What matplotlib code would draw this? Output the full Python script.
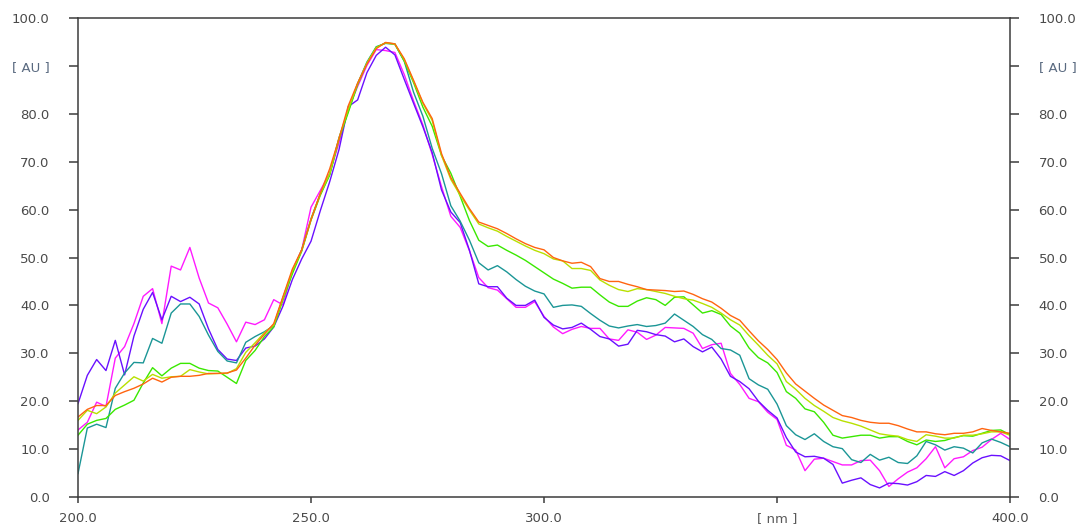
import numpy as np
import matplotlib
matplotlib.use("Agg")
import matplotlib.pyplot as plt

# wavelength grid [nm], 2 nm step
wavelength = np.arange(200, 401, 2)

magenta = [14.0, 15.6, 19.8, 18.9, 29.0, 31.4, 36.2, 41.9, 43.5, 36.2, 48.2, 47.4, 52.1, 45.7, 40.5, 39.5, 36.1, 32.4, 36.5, 36.0, 37.0,
           41.2, 40.1, 47.3, 51.6, 60.5, 64.0, 67.6, 73.9, 81.0, 85.7, 90.1, 93.4, 93.2, 92.8, 88.2, 82.7, 77.7, 71.5, 64.8, 58.6, 56.3, 51.4, 45.8, 43.7, 43.2, 41.4, 39.6, 39.6, 40.8, 37.7,
           35.5, 34.1, 35.0, 35.6, 35.2, 35.2, 33.0, 32.7, 34.9, 34.4, 32.9, 33.8, 35.4, 35.3, 35.2, 34.2, 31.0, 31.8, 32.1, 25.8, 23.5, 20.6, 19.9, 17.7, 16.2,
           10.8, 9.8, 5.5, 7.9, 8.1, 7.4, 6.7, 6.7, 7.6, 7.7, 5.5, 2.2, 3.8, 5.2, 6.1, 8.0, 10.5, 6.1, 8.0, 8.4, 9.7, 10.4, 12.0, 13.3, 12.0]

purple = [19.5, 25.4, 28.7, 26.4, 32.7, 25.5, 33.6, 39.2, 42.7, 37.0, 41.9, 40.8, 41.7, 40.3, 35.1, 30.8, 28.8, 28.5, 31.1, 31.5, 33.0,
          35.5, 39.9, 45.4, 49.7, 53.4, 59.8, 65.8, 72.5, 81.5, 82.9, 88.6, 92.2, 93.9, 92.3, 87.2, 82.2, 77.3, 71.9, 64.1, 59.5, 57.3, 51.5, 44.5, 43.9, 43.9, 41.5, 40.0, 40.0, 41.1, 37.5,
          35.9, 35.1, 35.4, 36.3, 35.0, 33.5, 33.0, 31.5, 31.9, 34.8, 34.5, 33.9, 33.6, 32.4, 33.0, 31.4, 30.3, 31.3, 28.8, 25.2, 24.1, 22.6, 20.0, 18.1, 16.5,
          12.4, 9.4, 8.4, 8.5, 8.1, 6.8, 2.9, 3.5, 4.0, 2.6, 1.9, 2.9, 2.8, 2.5, 3.2, 4.5, 4.3, 5.3, 4.5, 5.5, 7.1, 8.2, 8.7, 8.6, 7.6]

teal = [4.9, 14.4, 15.2, 14.5, 22.7, 25.9, 28.1, 28.0, 33.1, 32.1, 38.4, 40.3, 40.3, 37.7, 33.8, 30.4, 28.4, 28.0, 32.3, 33.5, 34.5,
        35.8, 41.7, 47.0, 51.6, 58.1, 63.3, 67.3, 75.0, 80.6, 86.3, 90.8, 94.0, 94.7, 94.5,
        91.0, 84.5, 79.5, 72.8, 67.5, 60.8, 57.6, 53.6, 48.9, 47.4, 48.3, 47.0, 45.4, 44.0, 43.0, 42.4,
        39.6, 40.0, 40.1, 39.8, 38.3, 36.9, 35.7, 35.3, 35.7, 36.0, 35.6, 35.8, 36.3, 38.2, 36.9, 35.6, 33.9, 32.9, 31.0, 30.7, 29.6, 24.7, 23.4, 22.5, 19.4,
        14.9, 13.0, 12.0, 13.2, 11.6, 10.5, 10.1, 7.8, 7.2, 8.9, 7.7, 8.3, 7.2, 7.0, 8.6, 11.6, 10.9, 9.8, 10.5, 10.2, 9.2, 11.3, 12.1, 11.4, 10.5]

green = [12.9, 15.2, 16.0, 16.4, 18.3, 19.2, 20.2, 23.8, 27.0, 25.3, 26.9, 27.9, 27.9, 26.9, 26.4, 26.3, 25.0, 23.7, 28.5, 30.6, 33.5,
         35.5, 41.2, 46.6, 51.3, 57.8, 63.0, 67.2, 74.7, 80.3, 86.1, 90.6, 93.9, 94.8, 94.6,
         91.0, 86.5, 81.4, 77.4, 71.3, 67.6, 62.8, 57.7, 53.6, 52.3, 52.6, 51.5, 50.5, 49.4, 48.1, 46.8,
         45.5, 44.6, 43.6, 43.8, 43.8, 42.2, 40.7, 39.8, 39.8, 40.9, 41.6, 41.2, 40.0, 41.7, 41.8, 40.1, 38.4, 38.9, 38.1, 35.7, 34.2, 31.1, 29.1, 28.0, 26.0,
         22.0, 20.6, 18.4, 17.8, 15.6, 12.9, 12.3, 12.6, 12.9, 12.9, 12.3, 12.6, 12.6, 11.6, 10.9, 11.9, 11.6, 11.8, 12.4, 12.8, 12.7, 13.3, 13.9, 14.0, 13.0]

yellow = [16.0, 18.1, 17.4, 18.8, 21.7, 23.4, 25.1, 24.2, 25.6, 24.8, 25.1, 25.2, 26.6, 26.1, 25.7, 25.8, 25.8, 26.8, 30.2, 32.2, 34.3,
          35.9, 41.6, 47.2, 51.5, 58.0, 63.3, 67.5, 74.9, 81.0, 86.3, 90.6, 93.8, 94.8, 94.5,
          91.3, 86.8, 82.2, 78.6, 71.3, 66.3, 63.0, 59.9, 57.0, 56.2, 55.5, 54.4, 53.4, 52.4, 51.5, 50.8,
          49.7, 49.3, 47.7, 47.7, 47.3, 45.3, 44.2, 43.3, 42.9, 43.5, 43.3, 42.9, 42.5, 41.9, 41.4, 41.1, 40.4, 39.6, 38.4, 37.0, 35.9, 33.7, 31.7, 29.6, 27.8,
          24.1, 22.5, 20.6, 19.1, 17.9, 16.6, 15.9, 15.4, 14.8, 14.0, 13.2, 12.9, 12.7, 12.0, 11.6, 13.0, 12.7, 12.3, 12.3, 12.9, 12.9, 13.2, 13.6, 13.6, 12.9]

orange = [16.7, 18.3, 19.1, 19.1, 21.2, 22.0, 22.7, 23.6, 24.8, 24.0, 25.0, 25.2, 25.2, 25.4, 25.8, 25.8, 25.9, 26.5, 29.0, 31.7, 34.0,
          36.2, 41.9, 47.6, 51.6, 57.9, 63.4, 68.5, 74.8, 81.7, 86.4, 90.4, 93.6, 94.9, 94.6,
          91.5, 87.0, 82.4, 79.0, 71.7, 66.7, 63.4, 60.2, 57.4, 56.7, 56.0, 55.0, 53.9, 52.9, 52.1, 51.6,
          50.0, 49.3, 48.8, 49.0, 48.1, 45.6, 45.0, 45.0, 44.4, 43.9, 43.3, 43.2, 43.1, 42.9, 43.0, 42.3, 41.4, 40.7, 39.4, 37.9, 36.9, 34.7, 32.6, 30.8, 28.7,
          25.9, 23.6, 22.1, 20.6, 19.2, 18.1, 17.0, 16.6, 16.0, 15.6, 15.4, 15.4, 14.9, 14.2, 13.6, 13.6, 13.2, 13.0, 13.3, 13.3, 13.6, 14.3, 13.9, 13.6, 13.3]

x_ticks = [200, 250, 300, 350, 400]
x_labels = ["200.0", "250.0", "300.0", "[ nm ]", "400.0"]
y_ticks = list(range(0, 101, 10))
y_labels = ["%.1f" % v for v in y_ticks]
y_labels[9] = "[ AU ]"

plt.rcParams['font.family'] = ['DejaVu Sans']

fig = plt.figure(figsize=(10.79, 5.26), dpi=100)
ax = fig.add_axes([0.0723, 0.0551, 0.8638, 0.9107])

series = [(magenta, '#ff1aff'), (purple, '#6a10ff'), (teal, '#1b9696'),
          (green, '#3ae800'), (yellow, '#b8e000'), (orange, '#ff6410')]
for vals, col in series:
    ax.plot(wavelength, vals, color=col, lw=1.0)

ax.set_xlim(200, 400)
ax.set_ylim(0, 100)

for s in ax.spines.values():
    s.set_color('#3c3c3c')
    s.set_linewidth(1.1)

ax.set_xticks(x_ticks)
ax.set_xticklabels(x_labels)
ax.set_yticks(y_ticks)
ax.set_yticklabels(y_labels)

ax.tick_params(axis='y', direction='out', length=6.5, width=1.1, color='#3c3c3c',
               left=True, right=True, labelleft=True, labelright=True,
               pad=14, labelsize=9.5, labelcolor='#4a4a4a')
ax.tick_params(axis='x', direction='out', length=4.5, width=1.1, color='#3c3c3c',
               pad=6, labelsize=9.5, labelcolor='#4a4a4a')

# unit ticks are drawn lighter
t = ax.yaxis.get_major_ticks()[9]
t.tick1line.set_color('#a0a0a0')
t.tick2line.set_color('#a0a0a0')
t.label1.set_color('#5a6a80')
t.label2.set_color('#5a6a80')
t = ax.xaxis.get_major_ticks()[3]
t.label1.set_color('#5a5a5a')

fig.savefig("out.png", dpi=100)
